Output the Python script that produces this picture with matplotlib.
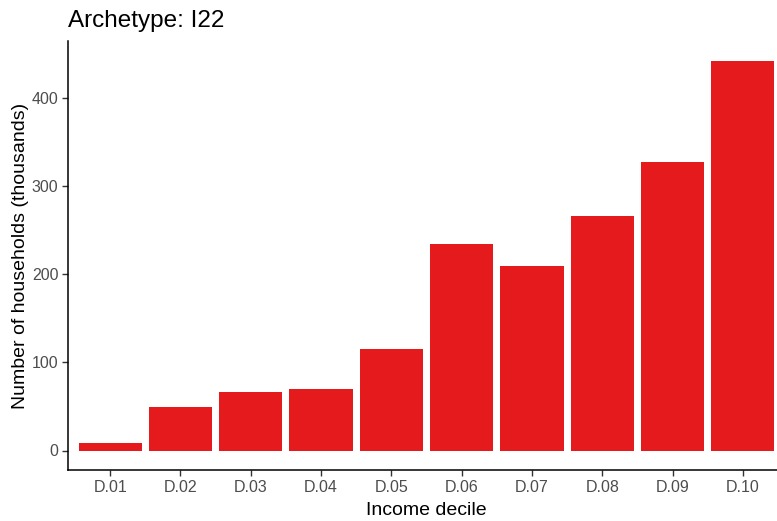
import matplotlib.pyplot as plt

# data
deciles = ["D.01", "D.02", "D.03", "D.04", "D.05",
           "D.06", "D.07", "D.08", "D.09", "D.10"]
households = [8, 49, 66, 70, 115.5, 234.5, 210, 266, 328, 443]
yticks = [0, 100, 200, 300, 400]

plt.rcParams['font.family'] = ['Liberation Sans', 'DejaVu Sans']

W, H = 777, 521
fig = plt.figure(figsize=(W / 100, H / 100), dpi=100)
left, right, top, bottom = 68, 785, 41, 470
ax = fig.add_axes([left / W, 1 - bottom / H, (right - left) / W, (bottom - top) / H])

x = list(range(1, len(deciles) + 1))
ax.bar(x, households, width=0.9, color="#E41A1C", edgecolor="none")

ax.set_xlim(0.4, len(deciles) + 0.6)
ymax = max(households)
ax.set_ylim(-0.05 * ymax, ymax * 1.05)
ax.set_xticks(x)
ax.set_xticklabels(deciles)
ax.set_yticks(yticks)

for s in ["top", "right"]:
    ax.spines[s].set_visible(False)
for s in ["left", "bottom"]:
    ax.spines[s].set_linewidth(1.1)
    ax.spines[s].set_color("black")

ax.tick_params(axis="both", length=4, width=1.0, color="#333333",
               labelcolor="#4D4D4D", labelsize=11.5, pad=3)

ax.set_xlabel("Income decile", fontsize=14, color="black", labelpad=5)
ax.set_ylabel("Number of households (thousands)", fontsize=14, color="black", labelpad=2)
fig.text(left / W, 1 - 27 / H, "Archetype: I22", fontsize=17.5, color="black",
         ha="left", va="baseline")

fig.savefig("out.png", dpi=100)
